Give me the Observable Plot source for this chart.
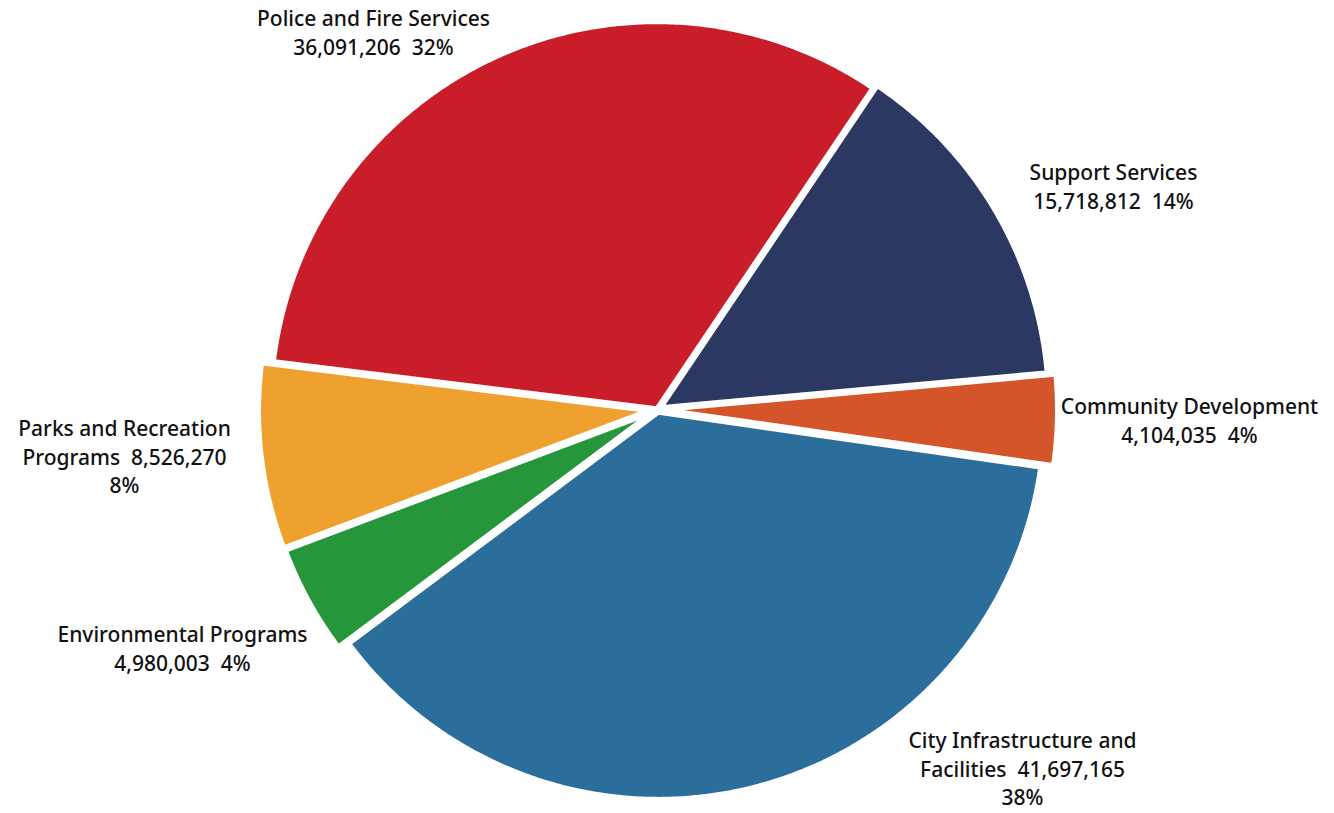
<!DOCTYPE html>
<html>
<head>
<meta charset="utf-8">
<script src="https://cdn.jsdelivr.net/npm/d3@7"></script>
<script src="https://cdn.jsdelivr.net/npm/@observablehq/plot@0.6"></script>
<style>
  html, body { margin: 0; padding: 0; background: #ffffff; }
  #chart svg { display: block; }
</style>
</head>
<body>
<div id="chart"></div>
<script>
// Budget by program area (dollars)
const categories = [
  "Police and Fire Services",
  "Support Services",
  "Community Development",
  "City Infrastructure and Facilities",
  "Environmental Programs",
  "Parks and Recreation Programs"
];
const amounts = [36091206, 15718812, 4104035, 41697165, 4980003, 8526270];
const sliceColors = ["#c91e2a", "#2a3862", "#d45529", "#2c6e9b", "#25973a", "#eea12f"];

// How each category name wraps in its label
const nameLines = [
  ["Police and Fire Services"],
  ["Support Services"],
  ["Community Development"],
  ["City Infrastructure and", "Facilities"],
  ["Environmental Programs"],
  ["Parks and Recreation", "Programs"]
];

// Layout: pie centre and radius in pixels, explode distance per slice, label centres
const W = 1334, H = 813;
const CX = 657, CY = 409, R = 385;
const explodePx = [2, 6, 14, 4, 12, 13];
const labelAt = [[373, 31], [1113, 185], [1189, 419], [1022, 767], [182, 647], [124, 455]];
const startDeg = -83;

// Unit coordinates: pie centre at (0,0), radius 1, y pointing up
const toUnit = ([px, py]) => [(px - CX) / R, (CY - py) / R];

const total = d3.sum(amounts);
const fmt = d3.format(",");
const rows = categories.map((c, i) => ({category: c, value: amounts[i], i}));

const arcs = d3.pie()
  .sort(null)
  .value(d => d.value)
  .startAngle(startDeg * Math.PI / 180)
  .endAngle(startDeg * Math.PI / 180 + 2 * Math.PI)(rows);

// Outline of every wedge as a closed polygon (angles clockwise from 12 o'clock)
const outline = [];
for (const a of arcs) {
  const mid = (a.startAngle + a.endAngle) / 2;
  const off = explodePx[a.data.i] / R;
  const ox = off * Math.sin(mid), oy = off * Math.cos(mid);
  const n = Math.max(8, Math.ceil((a.endAngle - a.startAngle) / (Math.PI / 360)));
  const pts = [[ox, oy]];
  for (let k = 0; k <= n; ++k) {
    const t = a.startAngle + (a.endAngle - a.startAngle) * k / n;
    pts.push([ox + Math.sin(t), oy + Math.cos(t)]);
  }
  pts.push([ox, oy]);
  for (const [x, y] of pts) outline.push({category: a.data.category, x, y});
}

// Label text: name, amount and share
const labels = rows.map(d => {
  const pct = Math.round(d.value / total * 100) + "%";
  const lines = nameLines[d.i];
  const text = lines.length === 1
    ? `${lines[0]}\n${fmt(d.value)}\u00a0\u00a0${pct}`
    : `${lines[0]}\n${lines[1]}\u00a0\u00a0${fmt(d.value)}\n${pct}`;
  const [x, y] = toUnit(labelAt[d.i]);
  return {category: d.category, text, x, y};
});

const chart = Plot.plot({
  width: W,
  height: H,
  margin: 0,
  x: {domain: [-CX / R, (W - CX) / R], axis: null},
  y: {domain: [-(H - CY) / R, CY / R], axis: null},
  color: {domain: categories, range: sliceColors},
  style: {fontFamily: "'Noto Sans', sans-serif", background: "#ffffff"},
  marks: [
    Plot.line(outline, {
      x: "x", y: "y", z: "category",
      fill: "category",
      stroke: "#ffffff",
      strokeWidth: 3,
      strokeLinejoin: "round",
      curve: "linear"
    }),
    Plot.text(labels, {
      x: "x", y: "y", text: "text",
      fontSize: 21,
      fontWeight: 500,
      lineHeight: 1.36,
      fill: "#111111",
      textAnchor: "middle",
      lineAnchor: "middle"
    })
  ]
});

document.getElementById("chart").appendChild(chart);
</script>
</body>
</html>
